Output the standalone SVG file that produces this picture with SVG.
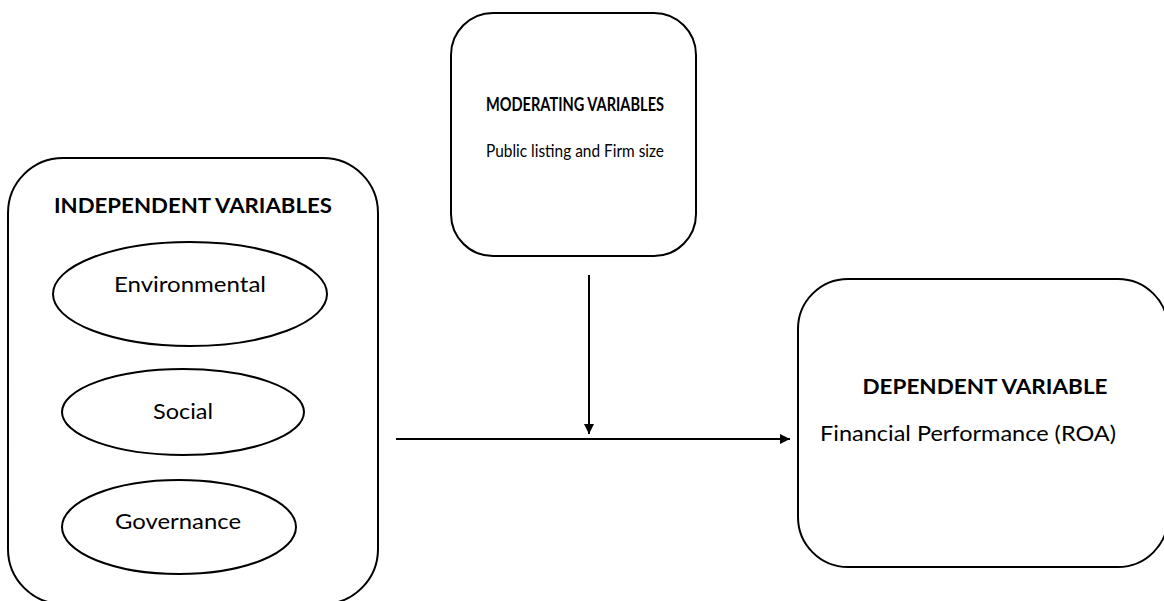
<svg xmlns="http://www.w3.org/2000/svg" width="1164" height="601" viewBox="0 0 1164 601">
<defs>
<marker id="arr" viewBox="0 0 10 10" refX="10" refY="5" markerWidth="5" markerHeight="5" orient="auto" markerUnits="strokeWidth">
<path d="M0,0 L10,5 L0,10 Z" fill="#000"/>
</marker>
<style>
.box{fill:#fff;stroke:#000;stroke-width:2}
.ell{fill:#fff;stroke:#000;stroke-width:2}
.h{font-family:Lato,"Liberation Sans",sans-serif;font-weight:bold;font-size:21px;text-anchor:middle;fill:#000}
.t{font-family:Lato,"Liberation Sans",sans-serif;font-size:21px;text-anchor:middle;fill:#000}
.m{font-size:18px}
.ln{stroke:#000;stroke-width:2;fill:none}
</style>
</defs>
<rect width="1164" height="601" fill="#fff"/>
<g id="independent">
<rect class="box" x="8" y="158" width="370" height="446" rx="55" ry="55"/>
<text class="h" x="193" y="213" textLength="278" lengthAdjust="spacingAndGlyphs">INDEPENDENT VARIABLES</text>
</g>
<g id="environmental">
<ellipse class="ell" cx="190" cy="294" rx="137" ry="52"/>
<text class="t" x="190" y="292" textLength="152" lengthAdjust="spacingAndGlyphs">Environmental</text>
</g>
<g id="social">
<ellipse class="ell" cx="183" cy="412" rx="121" ry="43"/>
<text class="t" x="183" y="419" textLength="60" lengthAdjust="spacingAndGlyphs">Social</text>
</g>
<g id="governance">
<ellipse class="ell" cx="179" cy="527" rx="117" ry="47"/>
<text class="t" x="178" y="529" textLength="126" lengthAdjust="spacingAndGlyphs">Governance</text>
</g>
<g id="moderating">
<rect class="box" x="451" y="13" width="245" height="243" rx="42" ry="42"/>
<text class="h m" x="575" y="111" textLength="178" lengthAdjust="spacingAndGlyphs">MODERATING VARIABLES</text>
<text class="t m" x="575" y="157" textLength="178" lengthAdjust="spacingAndGlyphs">Public listing and Firm size</text>
</g>
<g id="dependent">
<rect class="box" x="798" y="279" width="370" height="288" rx="50" ry="50"/>
<text class="h" x="985" y="394" textLength="245" lengthAdjust="spacingAndGlyphs">DEPENDENT VARIABLE</text>
<text class="t" x="968" y="441" textLength="296" lengthAdjust="spacingAndGlyphs">Financial Performance (ROA)</text>
</g>
<g id="connectors">
<line class="ln" x1="589" y1="275" x2="589" y2="434" marker-end="url(#arr)"/>
<line class="ln" x1="396" y1="439" x2="790" y2="439" marker-end="url(#arr)"/>
</g>
</svg>
